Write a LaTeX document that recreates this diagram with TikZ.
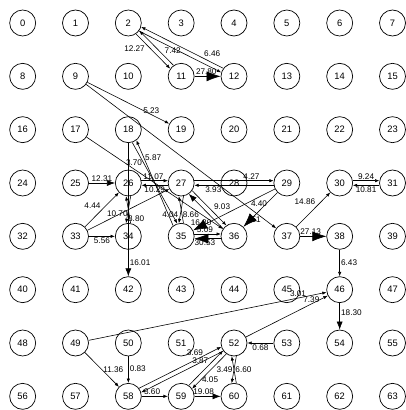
\documentclass[tikz,border=0pt]{standalone}
\usepackage{fontspec}
\setmainfont{Liberation Sans}
\usetikzlibrary{arrows.meta}
\tikzset{
  state/.style={
    draw, circle, line width=0.6pt, minimum size=0.78cm, inner sep=0pt, font=\footnotesize
  },
  wlab/.style={font=\scriptsize, inner sep=1pt},
  edge-s/.style={-{Latex[length=1.3mm, width=1mm]}, line width=0.5pt},
  edge-m/.style={-{Latex[length=2.4mm, width=1.8mm]}, line width=0.5pt},
  edge-b/.style={-{Latex[length=4.2mm, width=3mm]}, line width=0.5pt}
}

\begin{document}
\begin{tikzpicture}
  \useasboundingbox (0,0) rectangle (12.15,-12.3);

  % ---- States (8 x 8 grid) -------------------------------------------------
  \foreach \r in {0,...,7}
    \foreach \c in {0,...,7} {
      \pgfmathtruncatemacro{\k}{8*\r+\c}
      \node[state] (n\k) at ({0.68+1.585*\c}, {-0.69-1.6*\r}) {\k};
    }

  % ---- Top rows ------------------------------------------------------------
  \draw[edge-s] (n2.-55) -- node[wlab, below left, pos=.3] {12.27} (n11.145);
  \draw[edge-s] (n11.125) -- node[wlab, above right, pos=.3] {7.42} (n2.-35);
  \draw[edge-s] (n12.143) -- node[wlab, above right, pos=.25] {6.46} (n2.-17);
  \draw[edge-s] (n2.-37) -- (n12.163);
  \draw[edge-b] (n11) -- node[wlab, above, pos=.45] {27.80} (n12);
  \draw[edge-s] (n9) -- node[wlab, above, pos=.78] {5.23} (n19);
  \draw[edge-s] (n9) -- node[wlab, above right, pos=.86] {4.40} (n37);
  \draw[edge-s] (n17) -- (n36);

  % ---- Around 18, 26 and 34 ------------------------------------------------
  \draw[edge-s] (n35.127) -- node[wlab, right, pos=.8] {5.87} (n18.-53);
  \draw[edge-s] (n18.-73) -- node[wlab, left, pos=.25] {3.70} (n35.107);
  \draw[edge-m] (n18) -- node[wlab, right, pos=.9] {16.01} (n42);
  \draw[edge-m] (n25) -- node[wlab, above] {12.31} (n26);
  \draw[edge-s] (n26.10) -- node[wlab, above, pos=.45] {11.07} (n27.170);
  \draw[edge-s] (n27.190) -- node[wlab, below, pos=.5] {10.29} (n26.-10);
  \draw[edge-s] (n33) -- node[wlab, above left, pos=.5] {4.44} (n26);
  \draw[edge-s] (n33) -- (n27);
  \draw[edge-s] (n34.80) -- node[wlab, left, pos=.35] {10.70} (n26.-100);
  \draw[edge-s] (n26.-80) -- node[wlab, right, pos=.85] {8.80} (n34.100);
  \draw[edge-s] (n33) -- node[wlab, below] {5.56} (n34);

  % ---- Around 27, 29, 35 and 36 --------------------------------------------
  \draw[edge-s] (n35.80) -- node[wlab, left=2pt, pos=.3] {4.04} (n27.-100);
  \draw[edge-s] (n27.-80) -- node[wlab, right=1pt, pos=.7] {8.66} (n35.100);
  \draw[edge-s] (n27.-35) -- node[wlab, above right, pos=.6] {9.03} (n36.125);
  \draw[edge-m] (n36.145) -- node[wlab, below left, pos=.3] {16.30} (n27.-55);
  \draw[edge-s] (n27.10) -- node[wlab, above, pos=.72] {4.27} (n29.170);
  \draw[edge-s] (n29.190) -- node[wlab, below, pos=.76] {3.93} (n27.-10);
  \draw[edge-b] (n29) -- (n35);
  \draw[edge-b] (n29) -- node[wlab, right, pos=.8] {51} (n36);
  \draw[edge-s] (n35.10) -- node[wlab, above, pos=.4] {5.09} (n36.170);
  \draw[edge-b] (n36.190) -- node[wlab, below, pos=.6] {30.53} (n35.-10);

  % ---- Right side ----------------------------------------------------------
  \draw[edge-s] (n30.10) -- node[wlab, above] {9.24} (n31.170);
  \draw[edge-s] (n31.190) -- node[wlab, below] {10.81} (n30.-10);
  \draw[edge-s] (n37) -- node[wlab, above left, pos=.6] {14.86} (n30);
  \draw[edge-b] (n37) -- node[wlab, above, pos=.4] {27.13} (n38);
  \draw[edge-s] (n38) -- node[wlab, right] {6.43} (n46);
  \draw[edge-m] (n46) -- node[wlab, right, pos=.35] {18.30} (n54);

  % ---- Bottom rows ---------------------------------------------------------
  \draw[edge-s] (n49) -- node[wlab, above, pos=.88] {3.01} (n46);
  \draw[edge-s] (n52) -- node[wlab, above, pos=.8] {7.39} (n46);
  \draw[edge-s] (n53) -- node[wlab, below] {0.68} (n52);
  \draw[edge-s] (n58.37) -- node[wlab, above, pos=.68, yshift=3pt] {3.69} (n52.197);
  \draw[edge-s] (n52.217) -- node[wlab, above, pos=.28, yshift=-2pt] {3.87} (n58.17);
  \draw[edge-s] (n52.-80) -- node[wlab, right] {6.60} (n60.100);
  \draw[edge-s] (n60.80) -- node[wlab, left] {3.49} (n52.-100);
  \draw[edge-s] (n52.-125) -- node[wlab, right, pos=.75] {4.05} (n59.35);
  \draw[edge-s] (n59.55) -- (n52.-145);
  \draw[edge-m] (n59) -- node[wlab, above, pos=.35] {19.08} (n60);
  \draw[edge-s] (n58) -- node[wlab, above, pos=.4] {3.60} (n59);
  \draw[edge-s] (n50) -- node[wlab, right, pos=.45] {0.83} (n58);
  \draw[edge-s] (n49) -- node[wlab, right, pos=.5] {11.36} (n58);

\end{tikzpicture}
\end{document}
